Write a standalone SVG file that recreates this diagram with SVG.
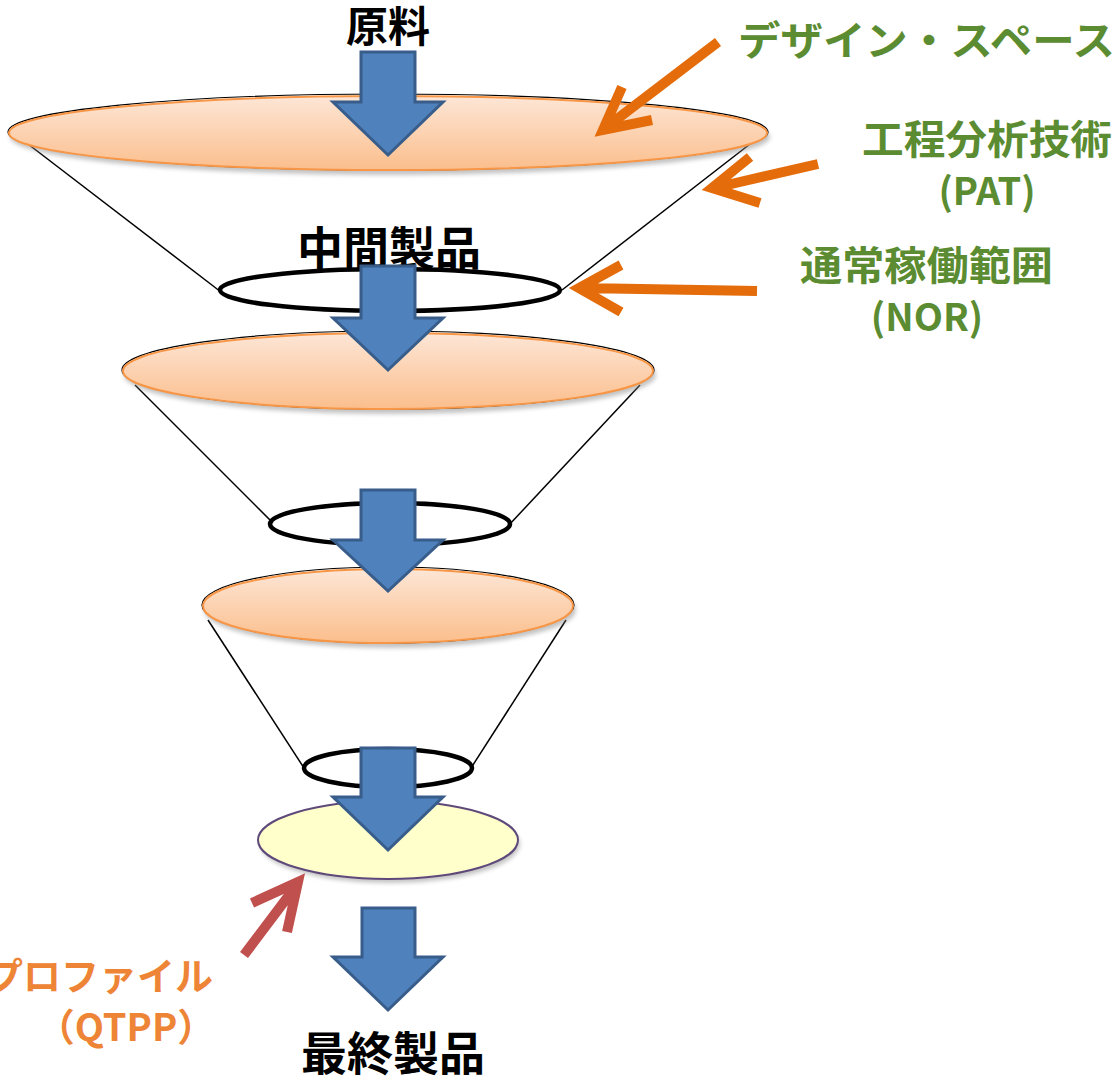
<svg xmlns="http://www.w3.org/2000/svg" width="1119" height="1081" viewBox="0 0 1119 1081">
<defs>
<linearGradient id="peach" x1="0" y1="0" x2="0" y2="1">
<stop offset="0" stop-color="#FDE6D6"/>
<stop offset="1" stop-color="#FBBE8C"/>
</linearGradient>
<filter id="sh" x="-10%" y="-30%" width="120%" height="160%">
<feGaussianBlur stdDeviation="2"/>
</filter>
</defs>
<style>
.cone{stroke:#000;stroke-width:1.5;fill:none}
.shadow{fill:#888;opacity:0.5;filter:url(#sh)}
.disc{fill:url(#peach);stroke:#F79646;stroke-width:2}
.discedge{fill:none;stroke:#000;stroke-width:1.2}
.ring{fill:none;stroke:#000;stroke-width:4.5}
.blue{fill:#4F81BD;stroke:#385D8A;stroke-width:3;stroke-linejoin:miter}
.oarrow{fill:none;stroke:#E46C0A;stroke-width:10;stroke-linejoin:miter}
.rarrow{fill:none;stroke:#C0504D;stroke-width:10;stroke-linejoin:miter}
.lbl{font-family:"Noto Sans CJK JP","Noto Sans",sans-serif;font-weight:bold}
.blk{fill:#000;text-anchor:middle}
.grn{fill:#5B8C32}
.org{fill:#EE8436}
</style>

<g id="connectors">
<line class="cone" x1="28" y1="144" x2="221" y2="292"/>
<line class="cone" x1="750" y1="144" x2="562" y2="290"/>
<line class="cone" x1="135" y1="385" x2="273" y2="523"/>
<line class="cone" x1="640" y1="385" x2="509" y2="525"/>
<line class="cone" x1="208" y1="620" x2="304" y2="768"/>
<line class="cone" x1="566" y1="620" x2="471" y2="768"/>
</g>

<g id="design-space-disc">
<ellipse class="shadow" cx="390" cy="137" rx="380" ry="38"/>
<ellipse class="discedge" cx="388" cy="132" rx="380" ry="38"/>
<ellipse class="disc" cx="388" cy="133" rx="379" ry="37"/>
</g>
<g id="ring-1"><ellipse class="ring" cx="390" cy="290" rx="170" ry="21"/></g>

<g id="disc-2">
<ellipse class="shadow" cx="390" cy="375" rx="266" ry="39"/>
<ellipse class="discedge" cx="388" cy="370" rx="266" ry="39"/>
<ellipse class="disc" cx="388" cy="371" rx="265" ry="38"/>
</g>
<g id="ring-2"><ellipse class="ring" cx="390" cy="524" rx="120" ry="21"/></g>

<g id="disc-3">
<ellipse class="shadow" cx="390" cy="610" rx="186" ry="38"/>
<ellipse class="discedge" cx="388" cy="605" rx="186" ry="38"/>
<ellipse class="disc" cx="388" cy="606" rx="185" ry="37"/>
</g>
<g id="ring-3"><ellipse class="ring" cx="388" cy="768" rx="84" ry="19"/></g>

<g id="qtpp-disc">
<ellipse class="shadow" cx="390" cy="844" rx="130" ry="39"/>
<ellipse cx="388" cy="840" rx="130" ry="39" fill="#FFFFCC" stroke="#5F497A" stroke-width="2"/>
</g>

<g id="labels-main">
<text class="lbl blk" x="388" y="42" font-size="42">原料</text>
<text class="lbl blk" x="389" y="265" font-size="46">中間製品</text>
<text class="lbl blk" x="393" y="1070" font-size="46">最終製品</text>
</g>

<g id="blue-arrows">
<path class="blue" d="M361 52 H415 V102 H443 L388 155 L333 102 H361 Z"/>
<path class="blue" d="M361 266 H415 V318 H443 L388 370 L333 318 H361 Z"/>
<path class="blue" d="M361 490 H415 V540 H443 L388 591 L333 540 H361 Z"/>
<path class="blue" d="M361 748 H415 V797 H443 L388 850 L333 797 H361 Z"/>
<path class="blue" d="M362 908 H415 V957 H443 L388 1010 L333 957 H362 Z"/>
</g>

<g id="design-space">
<path class="oarrow" d="M718 42 L604 129 M622 87 L603 130 L652 120"/>
<text class="lbl grn" x="738" y="55" font-size="40" textLength="377" lengthAdjust="spacingAndGlyphs">デザイン・スペース</text>
</g>
<g id="pat">
<path class="oarrow" d="M818 164 L714 188 M750 157 L712 188 L760 203"/>
<text class="lbl grn" x="862" y="154" font-size="40" textLength="250" lengthAdjust="spacingAndGlyphs">工程分析技術</text>
<text class="lbl grn" x="987" y="205" font-size="38" text-anchor="middle">(PAT)</text>
</g>
<g id="nor">
<path class="oarrow" d="M757 291 L582 288 M621 265 L579 288 L621 312"/>
<text class="lbl grn" x="800" y="280" font-size="40" textLength="253" lengthAdjust="spacingAndGlyphs">通常稼働範囲</text>
<text class="lbl grn" x="927" y="331" font-size="38" text-anchor="middle">(NOR)</text>
</g>
<g id="qtpp">
<path class="rarrow" d="M244 955 L296 886 M252 903 L298 882 L287 932"/>
<text class="lbl org" x="213" y="990" font-size="38" text-anchor="end">プロファイル</text>
<text class="lbl org" x="126" y="1041" font-size="38" text-anchor="middle">（QTPP）</text>
</g>
</svg>
